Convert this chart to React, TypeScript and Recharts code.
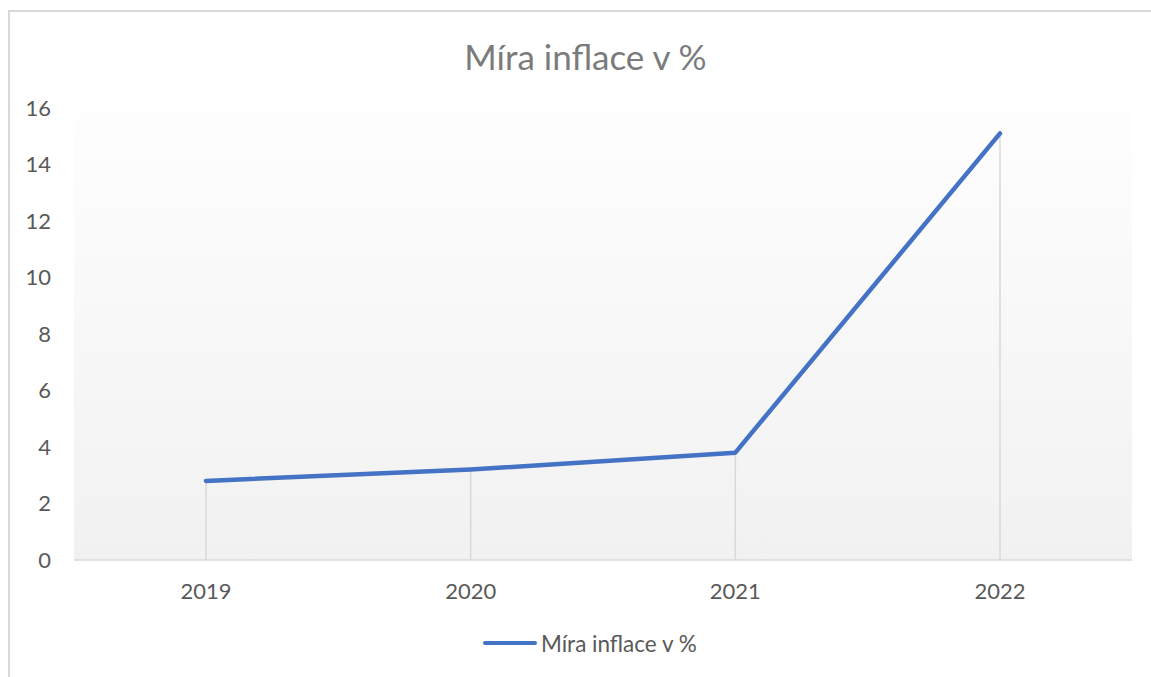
import {
    CartesianGrid,
    Line,
    LineChart,
    ReferenceLine,
    XAxis,
    YAxis,
} from 'recharts';

const years = ['2019', '2020', '2021', '2022'];
const inflation = [2.8, 3.2, 3.8, 15.1];
const yTicks = [0, 2, 4, 6, 8, 10, 12, 14, 16];

const seriesName = 'Míra inflace v %';
const font = 'Lato, "Open Sans", sans-serif';

const data = years.map((year, i) => ({ year, value: inflation[i] }));

export default function App() {
    return (
        <div
            style={{
                position: 'absolute',
                left: 0,
                top: 0,
                width: 1151,
                height: 677,
                overflow: 'hidden',
                background: '#ffffff',
                fontFamily: font,
            }}
        >
            {/* chart frame, clipped on the right and bottom */}
            <div
                style={{
                    position: 'absolute',
                    left: 8,
                    top: 10,
                    width: 1200,
                    height: 720,
                    border: '2px solid #d9d9d9',
                }}
            />
            <div
                style={{
                    position: 'absolute',
                    left: 0,
                    top: 35,
                    width: 1171,
                    textAlign: 'center',
                    fontSize: 35,
                    color: '#7b7b7b',
                    lineHeight: '42px',
                }}
            >
                {seriesName}
            </div>
            <LineChart
                width={1151}
                height={677}
                data={data}
                margin={{ top: 108, right: 19, bottom: 77, left: 14 }}
                style={{ position: 'absolute', left: 0, top: 0 }}
            >
                <defs>
                    <linearGradient id="plotBg" x1="0" y1="0" x2="0" y2="1">
                        <stop offset="0%" stopColor="#fefefe" />
                        <stop offset="100%" stopColor="#f1f1f1" />
                    </linearGradient>
                </defs>
                <CartesianGrid
                    horizontal={false}
                    vertical={false}
                    fill="url(#plotBg)"
                    fillOpacity={1}
                />
                <XAxis
                    dataKey="year"
                    height={40}
                    padding={{ left: 132, right: 132 }}
                    stroke="#d9d9d9"
                    strokeWidth={1.5}
                    tickLine={false}
                    tickMargin={17}
                    tick={{ fill: '#595959', fontSize: 22, fontFamily: font }}
                />
                <YAxis
                    width={60}
                    domain={[0, 16]}
                    ticks={yTicks}
                    axisLine={false}
                    tickLine={false}
                    tickMargin={17}
                    tick={{ fill: '#595959', fontSize: 22, fontFamily: font }}
                />
                {data.map((d) => (
                    <ReferenceLine
                        key={d.year}
                        segment={[
                            { x: d.year, y: 0 },
                            { x: d.year, y: d.value },
                        ]}
                        stroke="#d9d9d9"
                        strokeWidth={1.5}
                    />
                ))}
                <Line
                    type="linear"
                    dataKey="value"
                    name={seriesName}
                    stroke="#4472c4"
                    strokeWidth={4.5}
                    strokeLinecap="round"
                    strokeLinejoin="round"
                    dot={false}
                    activeDot={false}
                    isAnimationActive={false}
                />
            </LineChart>
            <div
                style={{
                    position: 'absolute',
                    left: 483,
                    top: 628,
                    height: 30,
                    display: 'flex',
                    alignItems: 'center',
                    fontSize: 22.5,
                    color: '#595959',
                }}
            >
                <span
                    style={{
                        display: 'inline-block',
                        width: 54,
                        height: 4.5,
                        borderRadius: 3,
                        background: '#4472c4',
                        marginRight: 4,
                    }}
                />
                {seriesName}
            </div>
        </div>
    );
}
